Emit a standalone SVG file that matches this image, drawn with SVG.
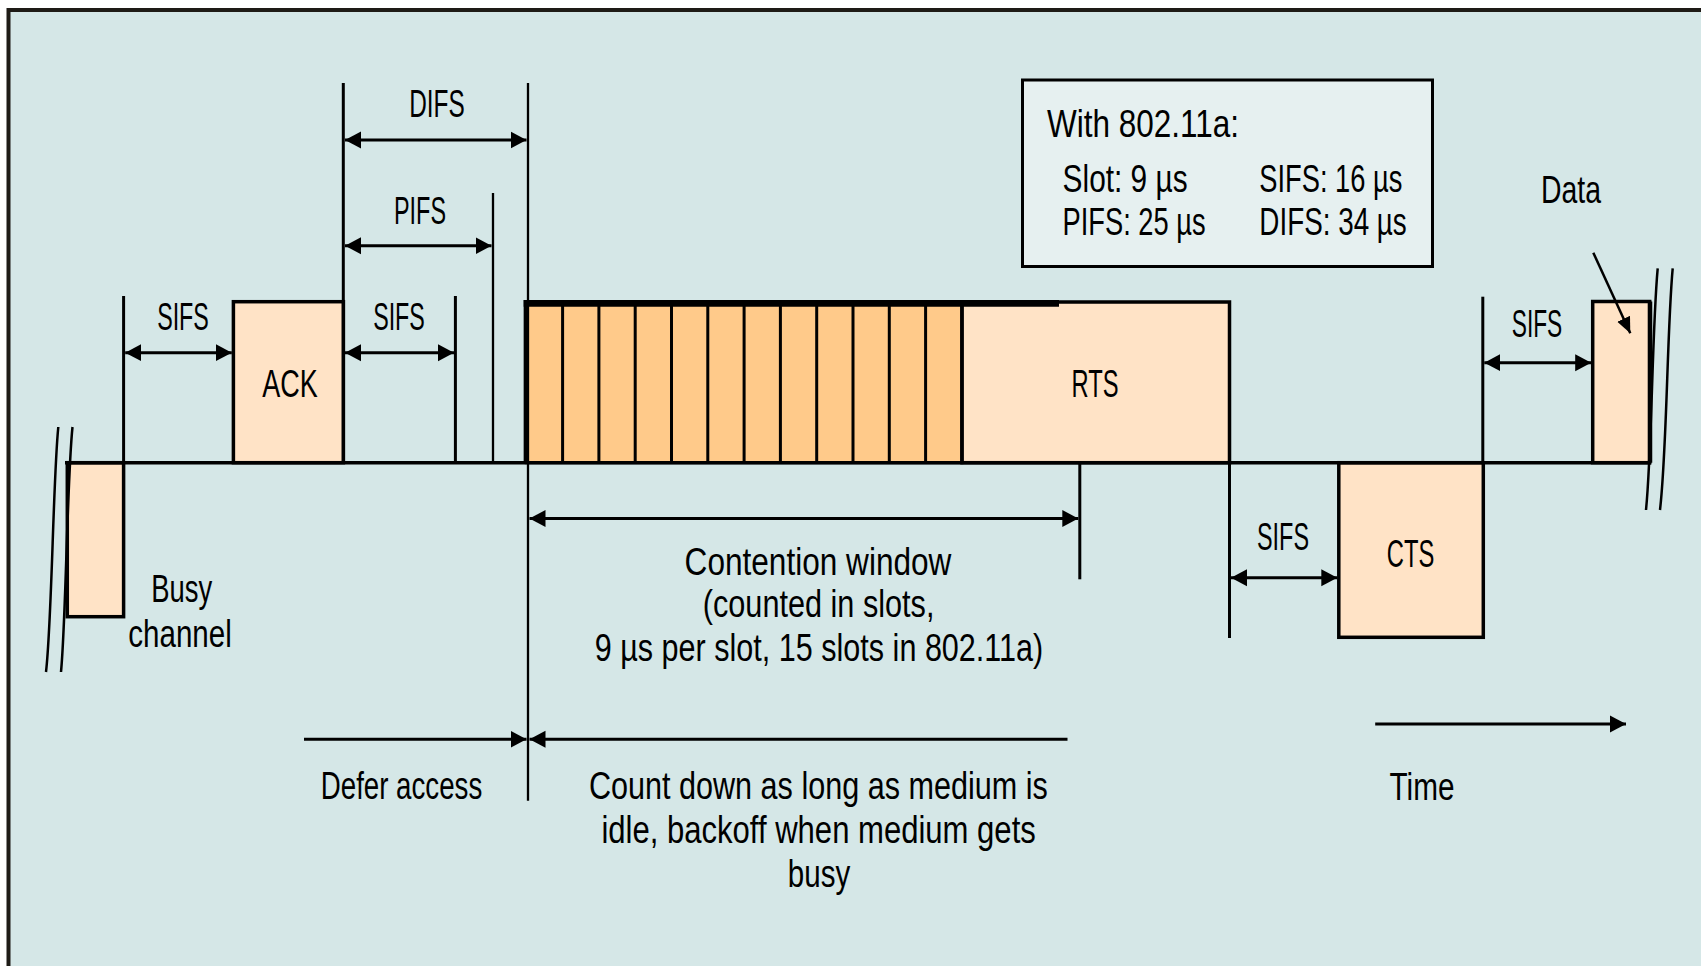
<svg xmlns="http://www.w3.org/2000/svg" width="1701" height="966" viewBox="0 0 1701 966">
<defs>
<style>
.t{font-family:"Liberation Sans",Arial,sans-serif;font-size:38px;fill:#000}
.m{text-anchor:middle}
.ln{stroke:#000;stroke-width:3;fill:none}
.th{stroke:#000;stroke-width:2.3;fill:none}
.box{fill:#ffe3c6;stroke:#000;stroke-width:3.5}
.slot{fill:#ffca8a;stroke:#000;stroke-width:3}
.arr{stroke:#000;stroke-width:3;fill:none;marker-start:url(#ah);marker-end:url(#ah)}
.arrE{stroke:#000;stroke-width:3;fill:none;marker-end:url(#ah)}
.brk{stroke:#000;stroke-width:2.5;fill:none}
</style>
<marker id="ah" markerUnits="userSpaceOnUse" markerWidth="18" markerHeight="18" refX="16" refY="9" orient="auto-start-reverse" viewBox="0 0 18 18">
<path d="M0,0.5 L16,9 L0,17.5 Z" fill="#000"/>
</marker>
<marker id="ahs" markerUnits="userSpaceOnUse" markerWidth="16" markerHeight="16" refX="16" refY="8" orient="auto" viewBox="0 0 16 16">
<path d="M0,1 L16,8 L0,15 Z" fill="#000"/>
</marker>
</defs>
<rect x="0" y="0" width="1701" height="966" fill="#ffffff"/>
<rect id="panel" x="8.5" y="10" width="1720" height="1000" fill="#d5e7e7" stroke="#1e1b16" stroke-width="4"/>

<g id="legend">
<rect x="1022.5" y="80" width="410" height="186.5" fill="#e6f0f0" stroke="#000" stroke-width="3"/>
<text class="t" x="1047" y="136.7" textLength="192" lengthAdjust="spacingAndGlyphs">With 802.11a:</text>
<text class="t" x="1062.6" y="191.7" textLength="125" lengthAdjust="spacingAndGlyphs">Slot: 9 µs</text>
<text class="t" x="1259.3" y="191.7" textLength="143" lengthAdjust="spacingAndGlyphs">SIFS: 16 µs</text>
<text class="t" x="1062.6" y="235" textLength="143" lengthAdjust="spacingAndGlyphs">PIFS: 25 µs</text>
<text class="t" x="1259.3" y="235" textLength="147.5" lengthAdjust="spacingAndGlyphs">DIFS: 34 µs</text>
</g>

<g id="busy">
<rect class="box" x="67.3" y="462.7" width="56.3" height="154"/>
<text class="t m" x="181.7" y="602" textLength="61" lengthAdjust="spacingAndGlyphs">Busy</text>
<text class="t m" x="180" y="646.6" textLength="103.5" lengthAdjust="spacingAndGlyphs">channel</text>
</g>

<g id="ack">
<rect class="box" x="233.4" y="301.7" width="110" height="161"/>
<text class="t m" x="290" y="396.7" textLength="55.5" lengthAdjust="spacingAndGlyphs">ACK</text>
</g>

<g id="slots">
<rect class="slot" x="526.3" y="303.3" width="435.7" height="159.4"/>
<path class="ln" d="M562.6,303 V462 M598.9,303 V462 M635.2,303 V462 M671.5,303 V462 M707.8,303 V462 M744.1,303 V462 M780.4,303 V462 M816.7,303 V462 M853,303 V462 M889.3,303 V462 M925.6,303 V462"/>
</g>

<g id="rts">
<rect class="box" x="962" y="302" width="267.5" height="160.7" stroke-width="3"/>
<text class="t m" x="1095" y="396.7" textLength="47" lengthAdjust="spacingAndGlyphs">RTS</text>
</g>
<path d="M962,303.3 V462.7" stroke="#000" stroke-width="3.2"/>
<path d="M523.7,303.3 H1059" stroke="#000" stroke-width="6.7"/>
<path d="M526.3,300 V462.7" stroke="#000" stroke-width="5.3"/>

<g id="cts">
<rect class="box" x="1338.8" y="462.7" width="144.5" height="174.6"/>
<text class="t m" x="1410.5" y="566.7" textLength="47.5" lengthAdjust="spacingAndGlyphs">CTS</text>
</g>

<g id="data">
<rect class="box" x="1592.7" y="301.5" width="57" height="161.2"/>
<path d="M1650,301.5 V462.7" stroke="#000" stroke-width="4.5"/>
<text class="t m" x="1571" y="203.3" textLength="60" lengthAdjust="spacingAndGlyphs">Data</text>
</g>

<g id="connectors">
<path d="M65,462.7 H1651" stroke="#000" stroke-width="3.5"/>
<path class="ln" d="M123.6,296 V462.7"/>
<path class="ln" d="M343.3,83 V462.7"/>
<path class="th" d="M528,83 V800.7"/>
<path class="th" d="M493,193 V462.7"/>
<path class="ln" d="M455.4,296 V462.7"/>
<path class="ln" d="M1079.8,462.7 V579.3"/>
<path class="ln" d="M1229.5,462.7 V638"/>
<path class="ln" d="M1482.8,296.7 V462.7"/>

<line class="arr" x1="345" y1="140" x2="526.5" y2="140"/>
<line class="arr" x1="345" y1="245.7" x2="491.5" y2="245.7"/>
<line class="arr" x1="125.2" y1="352.7" x2="231.8" y2="352.7"/>
<line class="arr" x1="345" y1="352.7" x2="454" y2="352.7"/>
<line class="arr" x1="529.5" y1="518.4" x2="1078.3" y2="518.4"/>
<line class="arrE" x1="304" y1="739.2" x2="526.5" y2="739.2"/>
<line class="arrE" x1="1067.5" y1="739.2" x2="529.5" y2="739.2"/>
<line class="arr" x1="1231" y1="577.7" x2="1337.3" y2="577.7"/>
<line class="arr" x1="1484.3" y1="362.7" x2="1591.2" y2="362.7"/>
<line class="arrE" x1="1375.2" y1="724" x2="1626" y2="724"/>
<line x1="1593.3" y1="252.7" x2="1630.3" y2="333.3" stroke="#000" stroke-width="2.5" marker-end="url(#ahs)"/>

<path class="brk" d="M58.3,427 C53,480 52,620 46,672"/>
<path class="brk" d="M72.5,427 C67,480 66,620 61,672"/>
<path class="brk" d="M1657.7,268.3 C1652,330 1652,450 1646,510"/>
<path class="brk" d="M1672.7,268.3 C1667,330 1667,450 1660,510"/>
</g>

<g id="labels">
<text class="t m" x="437" y="116.7" textLength="55.5" lengthAdjust="spacingAndGlyphs">DIFS</text>
<text class="t m" x="420" y="224" textLength="52" lengthAdjust="spacingAndGlyphs">PIFS</text>
<text class="t m" x="183" y="330" textLength="51.7" lengthAdjust="spacingAndGlyphs">SIFS</text>
<text class="t m" x="399" y="330" textLength="51.7" lengthAdjust="spacingAndGlyphs">SIFS</text>
<text class="t m" x="1537" y="336.7" textLength="50.6" lengthAdjust="spacingAndGlyphs">SIFS</text>
<text class="t m" x="1283" y="550" textLength="52" lengthAdjust="spacingAndGlyphs">SIFS</text>
<text class="t m" x="1422" y="800" textLength="65" lengthAdjust="spacingAndGlyphs">Time</text>
<text class="t m" x="401.5" y="799" textLength="161.5" lengthAdjust="spacingAndGlyphs">Defer access</text>
<text class="t m" x="818" y="575" textLength="266.8" lengthAdjust="spacingAndGlyphs">Contention window</text>
<text class="t m" x="818.6" y="616.7" textLength="231.6" lengthAdjust="spacingAndGlyphs">(counted in slots,</text>
<text class="t m" x="819" y="660.7" textLength="448.5" lengthAdjust="spacingAndGlyphs">9 µs per slot, 15 slots in 802.11a)</text>
<text class="t m" x="818.4" y="799.3" textLength="459" lengthAdjust="spacingAndGlyphs">Count down as long as medium is</text>
<text class="t m" x="818.6" y="842.7" textLength="434.4" lengthAdjust="spacingAndGlyphs">idle, backoff when medium gets</text>
<text class="t m" x="819" y="886.7" textLength="62.4" lengthAdjust="spacingAndGlyphs">busy</text>
</g>
</svg>
